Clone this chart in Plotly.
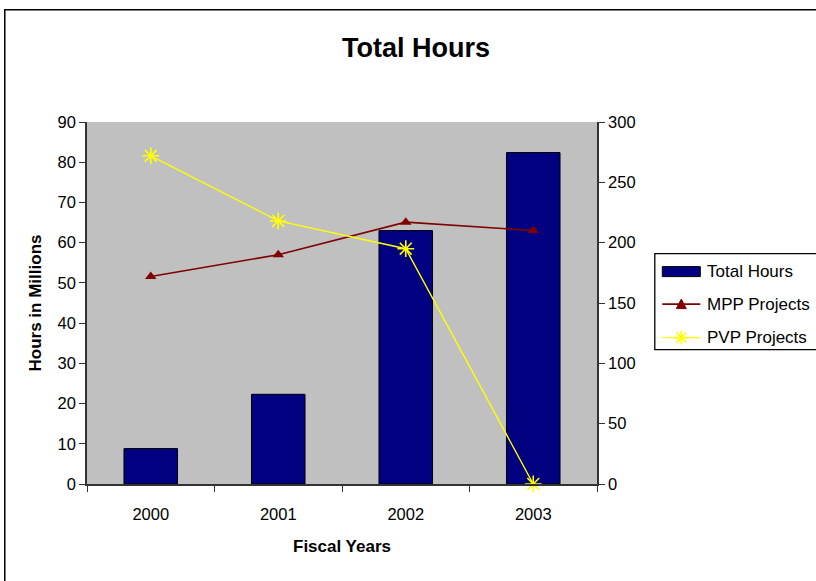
import plotly.graph_objects as go

# Fiscal years and series values
years = ["2000", "2001", "2002", "2003"]
total_hours = [8.8, 22.3, 63.0, 82.4]        # millions of hours (left axis)
mpp_projects = [172, 190, 217, 210]          # project counts (right axis)
pvp_projects = [272, 218, 195, 0]            # project counts (right axis)

series_names = ["Total Hours", "MPP Projects", "PVP Projects"]

NAVY, MAROON, YELLOW = "#000080", "#800000", "#FFFF00"

W, H = 816, 581
L, R, T, B = 86.7, 596.7, 122.3, 484.5      # plot area edges in px
pw, ph = R - L, B - T


def px_x(x):
    """Pixel column -> paper x."""
    return (x - L) / pw


def px_y(y):
    """Pixel row (from top) -> paper y."""
    return (B - y) / ph


FONT = "Liberation Sans, Arial, sans-serif"

fig = go.Figure()

fig.add_trace(go.Bar(
    x=years, y=total_hours, name=series_names[0],
    marker=dict(color=NAVY, line=dict(color="#000000", width=1)),
    width=0.42, yaxis="y",
))
fig.add_trace(go.Scatter(
    x=years, y=mpp_projects, name=series_names[1], mode="lines+markers",
    line=dict(color=MAROON, width=1.6),
    marker=dict(symbol="triangle-up", size=10, color=MAROON),
    yaxis="y2",
))
fig.add_trace(go.Scatter(
    x=years, y=pvp_projects, name=series_names[2], mode="lines+markers",
    line=dict(color=YELLOW, width=1.4),
    marker=dict(symbol="asterisk-open", size=14, color=YELLOW,
                line=dict(color=YELLOW, width=1.6)),
    yaxis="y2", cliponaxis=False,
))

axis_font = dict(family=FONT, size=16.5, color="#000000")

fig.update_layout(
    width=W, height=H,
    margin=dict(l=L, r=W - R, t=T, b=H - B, pad=0, autoexpand=False),
    paper_bgcolor="#FFFFFF",
    plot_bgcolor="#C0C0C0",
    font=dict(family=FONT, color="#000000"),
    showlegend=False,
    title=dict(
        text="<b>Total Hours</b>",
        font=dict(family=FONT, size=27),
        x=416 / W, xanchor="center", xref="container",
        y=1 - 48 / H, yanchor="middle", yref="container",
    ),
    xaxis=dict(
        type="category", range=[-0.5, 3.5],
        tickson="boundaries", ticks="outside", ticklen=6, tickcolor="#333333",
        ticklabelstandoff=14,
        showline=True, linecolor="#333333", linewidth=1.5,
        showgrid=False, zeroline=False,
        tickfont=axis_font,
        title=dict(text="<b>Fiscal Years</b>", font=dict(family=FONT, size=17), standoff=19),
    ),
    yaxis=dict(
        range=[0, 90], dtick=10, ticks="outside", ticklen=6, tickcolor="#333333",
        showline=True, linecolor="#333333", linewidth=1.5,
        showgrid=False, zeroline=False,
        tickfont=axis_font,
        title=dict(text="<b>Hours in Millions</b>", font=dict(family=FONT, size=17), standoff=12),
    ),
    yaxis2=dict(
        range=[0, 300], dtick=50, overlaying="y", side="right",
        ticks="outside", ticklen=6, tickcolor="#333333",
        showline=True, linecolor="#333333", linewidth=1.5,
        showgrid=False, zeroline=False,
        tickfont=axis_font,
    ),
)

# Outer chart frame
fig.add_shape(
    type="rect", xref="paper", yref="paper",
    x0=px_x(4.5), x1=px_x(W + 20), y0=px_y(H + 20), y1=px_y(10),
    line=dict(color="#000000", width=1.5), fillcolor="rgba(0,0,0,0)",
    layer="below",
)

# ---- Legend box (drawn by hand for wide swatches and roomy rows) ----
LEG_X0, LEG_Y0, LEG_X1, LEG_Y1 = 654.5, 254, W + 20, 350
SW_X0, SW_X1 = 662, 700
ROW_Y = [272, 304.5, 338]
TEXT_X = 705

fig.add_shape(
    type="rect", xref="paper", yref="paper",
    x0=px_x(LEG_X0), x1=px_x(LEG_X1), y0=px_y(LEG_Y1), y1=px_y(LEG_Y0),
    line=dict(color="#000000", width=1.3), fillcolor="#FFFFFF",
)

# bar swatch
fig.add_shape(
    type="rect", xref="paper", yref="paper",
    x0=px_x(SW_X0), x1=px_x(SW_X1), y0=px_y(ROW_Y[0] + 5), y1=px_y(ROW_Y[0] - 5),
    line=dict(color="#000000", width=1), fillcolor=NAVY,
)

# line swatches
for ry, col, wd in [(ROW_Y[1], MAROON, 1.6), (ROW_Y[2], YELLOW, 1.4)]:
    fig.add_shape(
        type="line", xref="paper", yref="paper",
        x0=px_x(SW_X0), x1=px_x(SW_X1), y0=px_y(ry), y1=px_y(ry),
        line=dict(color=col, width=wd),
    )

cx = (SW_X0 + SW_X1) / 2

# triangle marker for MPP
ty = ROW_Y[1]
tri = "M {:.5f},{:.5f} L {:.5f},{:.5f} L {:.5f},{:.5f} Z".format(
    px_x(cx - 5), px_y(ty + 4.5), px_x(cx + 5), px_y(ty + 4.5), px_x(cx), px_y(ty - 5))
fig.add_shape(type="path", xref="paper", yref="paper", path=tri,
              fillcolor=MAROON, line=dict(color=MAROON, width=1))

# asterisk marker for PVP
ay = ROW_Y[2]
r = 7
arms = [(0, r), (r, 0), (0.72 * r, 0.72 * r), (0.72 * r, -0.72 * r)]
star = " ".join(
    "M {:.5f},{:.5f} L {:.5f},{:.5f}".format(
        px_x(cx - dx), px_y(ay - dy), px_x(cx + dx), px_y(ay + dy))
    for dx, dy in arms)
fig.add_shape(type="path", xref="paper", yref="paper", path=star,
              line=dict(color=YELLOW, width=1.6))

for name, ry in zip(series_names, ROW_Y):
    fig.add_annotation(
        text=name, xref="paper", yref="paper",
        x=px_x(TEXT_X), y=px_y(ry), xanchor="left", yanchor="middle",
        showarrow=False, font=dict(family=FONT, size=17, color="#000000"),
    )

fig.write_html("out.html")
